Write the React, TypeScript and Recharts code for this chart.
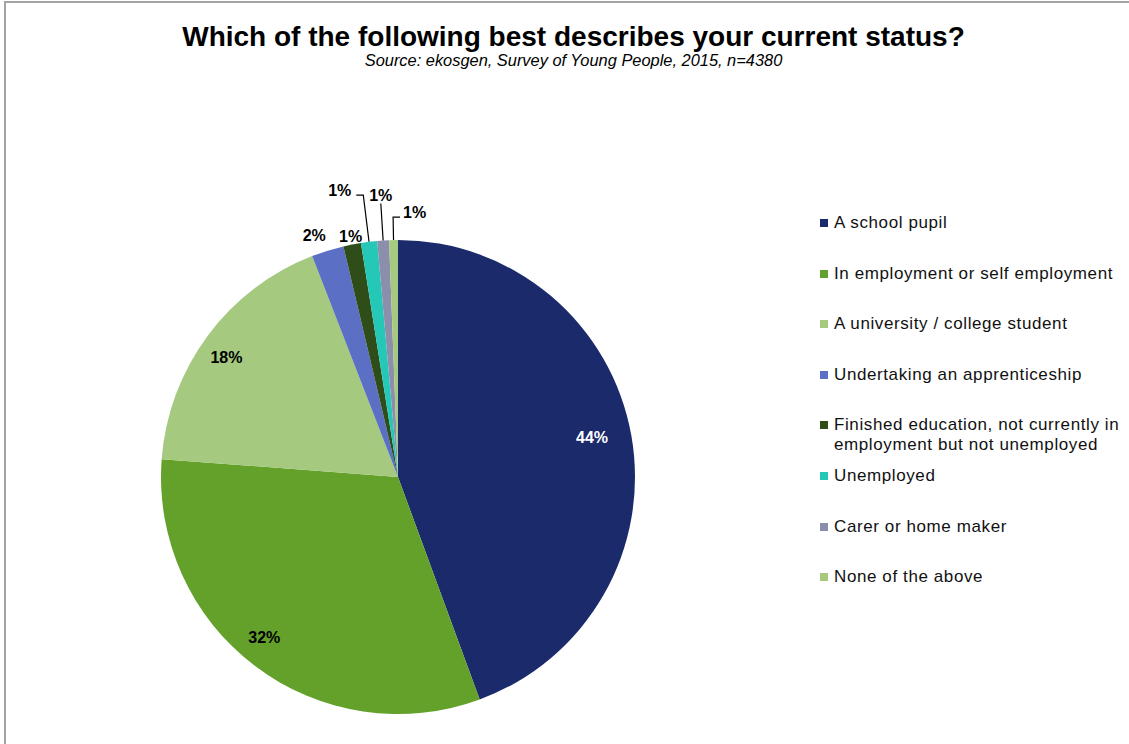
import React from 'react';
import { PieChart, Pie, Cell, Legend } from 'recharts';

const categories = [
  'A school pupil',
  'In employment or self employment',
  'A university / college student',
  'Undertaking an apprenticeship',
  'Finished education, not currently in employment but not unemployed',
  'Unemployed',
  'Carer or home maker',
  'None of the above',
];
const shares = [44.4, 31.8, 17.9, 2.2, 1.2, 1.1, 0.8, 0.6];
const colors = ['#1b2a6b', '#63a12a', '#a4c97f', '#5b6fc4', '#2f4d18', '#25c8b7', '#8c8fab', '#a4c97f'];

const data = categories.map((name, i) => ({ name, value: shares[i] }));

// how each slice label is placed
const labelLayout: any[] = [
  { kind: 'inside', r: 0.87, dx: -9, dy: -3, fill: '#ffffff' },
  { kind: 'inside', r: 0.88, dx: -8, dy: -6, fill: '#000000' },
  { kind: 'inside', r: 0.885, dx: -3, dy: 5, fill: '#000000' },
  { kind: 'outside', ext: 18, dx: -8, dy: 2 },
  { kind: 'outside', ext: 8, dx: 0, dy: 0 },
  { kind: 'callout', ext: 47, h: -7, anchor: 'end' },
  { kind: 'callout', ext: 37, h: 0, anchor: 'middle' },
  { kind: 'callout', ext: 23, h: 7, anchor: 'start' },
];

const RADIAN = Math.PI / 180;
const font = 'Arial, "Liberation Sans", sans-serif';

const renderLabel = (props: any) => {
  const { cx, cy, midAngle, outerRadius, index, value } = props;
  const cfg = labelLayout[index];
  const cos = Math.cos(-midAngle * RADIAN);
  const sin = Math.sin(-midAngle * RADIAN);
  const text = `${Math.round(value)}%`;
  const common = { fontFamily: font, fontSize: 16, fontWeight: 700, dominantBaseline: 'central' as const };

  if (cfg.kind === 'inside') {
    const r = outerRadius * cfg.r;
    return (
      <text x={cx + r * cos + cfg.dx} y={cy + r * sin + cfg.dy} textAnchor="middle" fill={cfg.fill} {...common}>
        {text}
      </text>
    );
  }
  if (cfg.kind === 'outside') {
    const r = outerRadius + cfg.ext;
    return (
      <text x={cx + r * cos + cfg.dx} y={cy + r * sin + cfg.dy} textAnchor="middle" fill="#000" {...common}>
        {text}
      </text>
    );
  }
  const sx = cx + outerRadius * cos;
  const sy = cy + outerRadius * sin;
  const ex = cx + (outerRadius + cfg.ext) * cos;
  const ey = cy + (outerRadius + cfg.ext) * sin;
  const hx = ex + cfg.h;
  let tx = ex;
  let ty = ey - 8;
  if (cfg.anchor === 'end') {
    tx = hx - 5;
    ty = ey - 5;
  } else if (cfg.anchor === 'start') {
    tx = hx + 3;
    ty = ey - 5;
  }
  return (
    <g>
      <polyline points={`${sx},${sy} ${ex},${ey} ${hx},${ey}`} fill="none" stroke="#000" strokeWidth={1.2} />
      <text x={tx} y={ty} textAnchor={cfg.anchor} fill="#000" {...common}>
        {text}
      </text>
    </g>
  );
};

const renderLegend = (props: any) => {
  const items = [...(props.payload || [])].sort(
    (a: any, b: any) => categories.indexOf(a.value) - categories.indexOf(b.value)
  );
  return (
    <ul style={{ listStyle: 'none', margin: 0, padding: 0 }}>
      {items.map((entry: any, i: number) => (
        <li key={i} style={{ display: 'flex', alignItems: 'flex-start', height: 50.6 }}>
          <span
            style={{
              display: 'inline-block',
              width: 8,
              height: 8,
              marginTop: 6,
              marginRight: 6,
              background: entry.color,
              flex: 'none',
            }}
          />
          <span
            style={{
              fontFamily: font,
              fontSize: 17,
              letterSpacing: 0.6,
              lineHeight: '20px',
              color: '#111',
              width: 296,
            }}
          >
            {entry.value}
          </span>
        </li>
      ))}
    </ul>
  );
};

export default function App() {
  return (
    <div style={{ position: 'fixed', inset: 0, overflow: 'hidden', background: '#fff' }}>
      <div
        style={{
          position: 'absolute',
          left: 4,
          top: 1,
          width: 1135,
          height: 760,
          border: '2px solid #a3a3a3',
          background: '#fff',
        }}
      >
        <div
          style={{
            position: 'absolute',
            left: 0,
            width: 1135,
            top: 19,
            textAlign: 'center',
            fontFamily: font,
            fontWeight: 700,
            fontSize: 28,
            color: '#000',
            lineHeight: '30px',
          }}
        >
          Which of the following best describes your current status?
        </div>
        <div
          style={{
            position: 'absolute',
            left: 0,
            width: 1135,
            top: 47,
            textAlign: 'center',
            fontFamily: font,
            fontStyle: 'italic',
            fontSize: 16.4,
            color: '#000',
            lineHeight: '20px',
          }}
        >
          Source: ekosgen, Survey of Young People, 2015, n=4380
        </div>
        <PieChart width={1135} height={760} style={{ position: 'absolute', left: 0, top: 0 }}>
          <Pie
            data={data}
            dataKey="value"
            nameKey="name"
            cx={387}
            cy={469}
            outerRadius={237}
            startAngle={90}
            endAngle={-270}
            stroke="none"
            label={renderLabel}
            labelLine={false}
            isAnimationActive={false}
          >
            {data.map((d, i) => (
              <Cell key={d.name} fill={colors[i]} />
            ))}
          </Pie>
          <Legend
            layout="vertical"
            verticalAlign="top"
            align="right"
            content={renderLegend}
            wrapperStyle={{ left: 814, top: 210, width: 320 }}
          />
        </PieChart>
      </div>
    </div>
  );
}
